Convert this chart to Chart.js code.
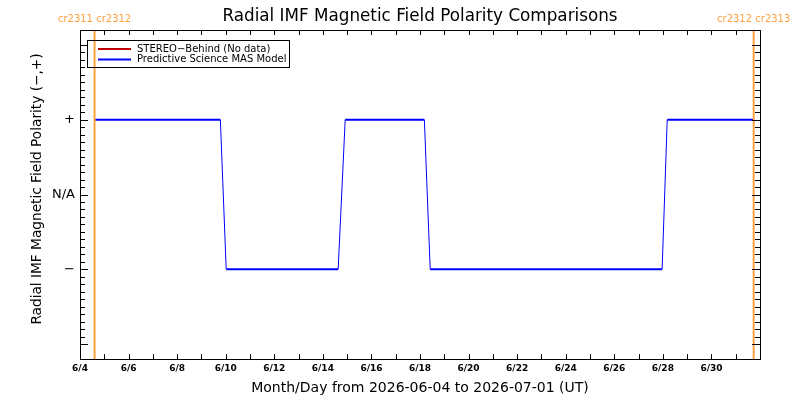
<!DOCTYPE html>
<html><head><meta charset="utf-8">
<script src="https://cdn.jsdelivr.net/npm/chart.js@4.4.1/dist/chart.umd.min.js"></script>
<style>html,body{margin:0;padding:0;background:#fff;overflow:hidden}</style>
</head><body>
<canvas id="c" width="800" height="400"></canvas>
<script>
// ---- data ----
const xTickLabels = ['6/4','6/6','6/8','6/10','6/12','6/14','6/16','6/18','6/20','6/22','6/24','6/26','6/28','6/30'];
const masDays = [0.6, 5.78, 6.02, 10.63, 10.92, 14.18, 14.42, 23.97, 24.18, 27.74];
const masPolarity = [1, 1, -1, -1, 1, 1, -1, -1, 1, 1];
const stereoDays = [];
const stereoPolarity = [];
const crBoundaryDays = [0.6, 27.74];
const crLabels = ['cr2311 cr2312', 'cr2312 cr2313'];
const yTickValues = [1, 0, -1];
const yTickLabels = ['+', 'N/A', '\u2212'];
const chartTitle = 'Radial IMF Magnetic Field Polarity Comparisons';
const xTitle = 'Month/Day from 2026-06-04 to 2026-07-01 (UT)';
const yTitle = 'Radial IMF Magnetic Field Polarity (\u2212,+)';

const ORANGE = '#ffa040';
const pts = (xs, ys) => xs.map((x, i) => ({x, y: ys[i]}));

const datasets = [];
crBoundaryDays.forEach((d, i) => datasets.push({
  label: crLabels[i], data: [{x: d, y: -2.2}, {x: d, y: 2.2}],
  borderColor: ORANGE, borderWidth: 2, pointRadius: 0, order: 0, inLegend: false, crLabel: crLabels[i]
}));
datasets.push({label: 'STEREO\u2212Behind (No data)', data: pts(stereoDays, stereoPolarity),
  borderColor: '#c00000', borderWidth: 2, pointRadius: 0, order: 2, inLegend: true});
datasets.push({label: 'Predictive Science MAS Model', data: pts(masDays, masPolarity),
  borderColor: '#0000ff', borderWidth: 2, pointRadius: 0, order: 1, inLegend: true,
  segment: {borderWidth: c => (c.p0.parsed.y !== c.p1.parsed.y ? 1 : 2)}});

const decor = {
  id: 'decor',
  afterDraw(chart) {
    const ctx = chart.ctx, a = chart.chartArea, xs = chart.scales.x, ys = chart.scales.y;
    ctx.save();
    // frame
    ctx.strokeStyle = '#000'; ctx.lineWidth = 1;
    ctx.strokeRect(Math.round(a.left) + 0.5, Math.round(a.top) + 0.5, Math.round(a.right - a.left), Math.round(a.bottom - a.top));
    ctx.beginPath();
    for (let d = 1; d < 28; d++) {
      const px = Math.round(xs.getPixelForValue(d)) + 0.5;
      ctx.moveTo(px, a.bottom); ctx.lineTo(px, a.bottom - 5);
      ctx.moveTo(px, a.top); ctx.lineTo(px, a.top + 5);
    }
    for (let k = -20; k <= 20; k++) {
      const py = Math.round(ys.getPixelForValue(k / 10)) + 0.5;
      const len = (k % 10 === 0) ? 8 : 5;
      ctx.moveTo(a.left, py); ctx.lineTo(a.left + len, py);
      ctx.moveTo(a.right, py); ctx.lineTo(a.right - len, py);
    }
    ctx.stroke();
    // titles
    const cx = (a.left + a.right) / 2;
    ctx.fillStyle = '#000'; ctx.textAlign = 'center'; ctx.textBaseline = 'middle';
    ctx.font = '16.8px "DejaVu Sans"';
    ctx.fillText(chartTitle, cx, 17);
    ctx.font = '14px "DejaVu Sans"';
    ctx.fillText(xTitle, cx, 388);
    ctx.save();
    ctx.translate(37, 189);
    ctx.rotate(-Math.PI / 2);
    ctx.font = '13.7px "DejaVu Sans"';
    ctx.fillText(yTitle, 0, 0);
    ctx.restore();
    // carrington labels
    ctx.font = '10px "DejaVu Sans"'; ctx.fillStyle = ORANGE;
    chart.data.datasets.forEach(ds => {
      if (ds.crLabel) ctx.fillText(ds.crLabel, xs.getPixelForValue(ds.data[0].x), 19);
    });
    // legend
    ctx.strokeStyle = '#000'; ctx.lineWidth = 1;
    ctx.strokeRect(87.5, 40.5, 202, 27);
    ctx.textAlign = 'left'; ctx.font = '10px "DejaVu Sans"'; ctx.fillStyle = '#000';
    let ly = 49;
    chart.data.datasets.forEach(ds => {
      if (!ds.inLegend) return;
      ctx.strokeStyle = ds.borderColor; ctx.lineWidth = 2;
      ctx.beginPath(); ctx.moveTo(98, ly); ctx.lineTo(131, ly); ctx.stroke();
      ctx.fillText(ds.label, 137, ly);
      ly += 10.5;
    });
    ctx.restore();
  }
};

new Chart(document.getElementById('c'), {
  type: 'line',
  data: {datasets},
  plugins: [decor],
  options: {
    responsive: false, animation: false, devicePixelRatio: 1,
    layout: {padding: {top: 30, right: 40, left: 0, bottom: 0}},
    plugins: {legend: {display: false}, tooltip: {enabled: false}},
    elements: {line: {tension: 0}},
    scales: {
      x: {
        type: 'linear', min: 0, max: 28,
        border: {display: false}, grid: {display: false, drawTicks: false},
        ticks: {
          stepSize: 1, autoSkip: false, maxRotation: 0, padding: 4, color: '#000',
          font: {family: 'DejaVu Sans', size: 9, weight: 'bold'},
          callback: v => (Math.round(v) % 2 === 0 && Math.round(v) / 2 < xTickLabels.length) ? xTickLabels[Math.round(v) / 2] : ''
        },
        afterFit(s) { s.height = 41; }
      },
      y: {
        type: 'linear', min: -2.2, max: 2.2,
        border: {display: false}, grid: {display: false, drawTicks: false},
        ticks: {
          stepSize: 0.1, autoSkip: false, padding: 5, color: '#000',
          font: {family: 'DejaVu Sans', size: 13},
          callback: v => {
            const i = yTickValues.findIndex(t => Math.abs(t - v) < 1e-6);
            return i >= 0 ? yTickLabels[i] : '';
          }
        },
        afterFit(s) { s.width = 80; }
      }
    }
  }
});
</script>
</body></html>
